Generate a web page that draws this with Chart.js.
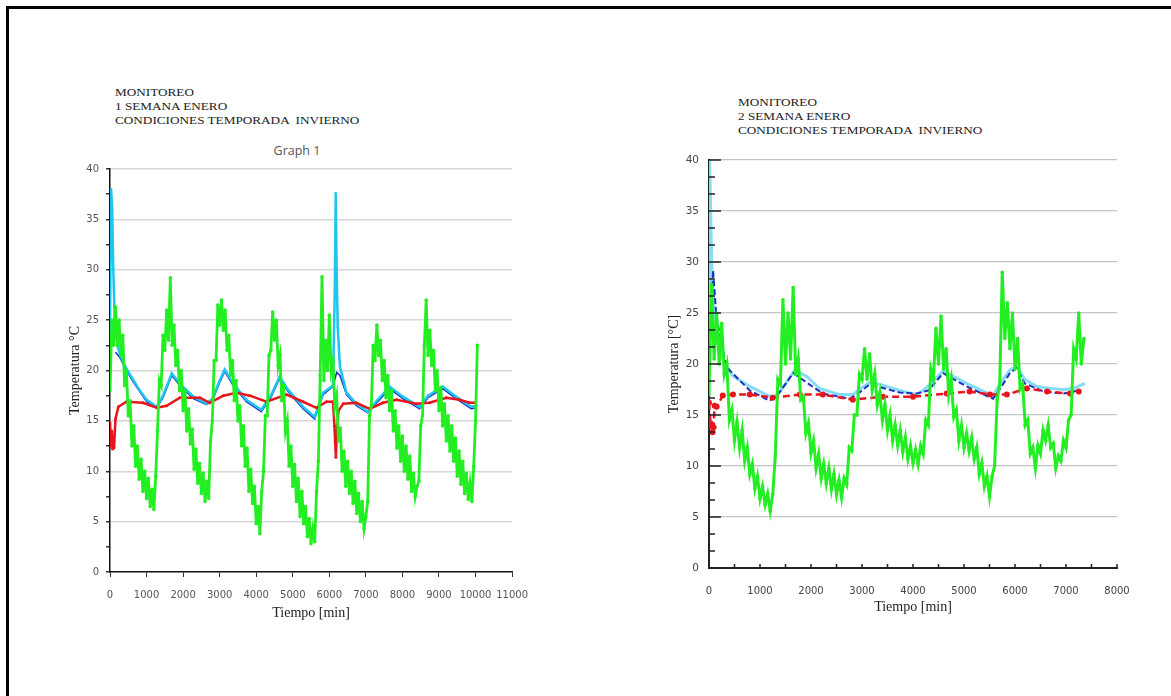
<!DOCTYPE html>
<html>
<head>
<meta charset="utf-8">
<script src="https://cdn.jsdelivr.net/npm/chart.js@4.4.1/dist/chart.umd.min.js"></script>
<style>
  body { margin: 0; background: #fff; width: 1171px; height: 696px; overflow: hidden; position: relative; }
  #frame { position: absolute; left: 6px; top: 6px; width: 1170px; height: 700px; border-top: 3px solid #000; border-left: 3px solid #000; }
  .note { position: absolute; font-family: "Liberation Serif", serif; font-size: 11px; line-height: 14px; color: #222;
    white-space: pre; transform: scaleX(1.2); transform-origin: 0 0; }
  #graph1 { position: absolute; left: 247px; top: 142px; width: 100px; text-align: center; font-family: "Open Sans", sans-serif; font-size: 12.5px; color: #555; }
  canvas { position: absolute; }
</style>
</head>
<body>
<div id="frame"></div>
<div class="note" style="left:115px; top:85px;">MONITOREO
1 SEMANA ENERO
CONDICIONES TEMPORADA  INVIERNO</div>
<div id="graph1">Graph 1</div>
<div class="note" style="left:738px; top:95px;">MONITOREO
2 SEMANA ENERO
CONDICIONES TEMPORADA  INVIERNO</div>
<canvas id="left" width="500" height="490" style="left:40px; top:140px;"></canvas>
<canvas id="right" width="510" height="490" style="left:640px; top:140px;"></canvas>
<script>
// semana 1 (left)
const leftGreenT = [0,50,100,150,200,250,300,350,400,450,500,550,600,650,700,750,800,850,900,950,
  1000,1050,1100,1150,1200,1250,1300,1350,1400,1450,1500,1550,1600,1650,1700,1750,1800,1850,1900,1950,
  2000,2050,2100,2150,2200,2250,2300,2350,2400,2450,2500,2550,2600,2650,2700,2750,2800,2850,2900,2950,
  3000,3050,3100,3150,3200,3250,3300,3350,3400,3450,3500,3550,3600,3650,3700,3750,3800,3850,3900,3950,
  4000,4050,4100,4150,4200,4250,4300,4350,4400,4450,4500,4550,4600,4650,4700,4750,4800,4850,4900,4950,
  5000,5050,5100,5150,5200,5250,5300,5350,5400,5450,5500,5550,5600,5650,5700,5750,5800,5850,5900,5950,
  6000,6050,6100,6150,6200,6250,6300,6350,6400,6450,6500,6550,6600,6650,6700,6750,6800,6850,6900,6950,
  7000,7050,7100,7150,7200,7250,7300,7350,7400,7450,7500,7550,7600,7650,7700,7750,7800,7850,7900,7950,
  8000,8050,8100,8150,8200,8250,8300,8350,8400,8450,8500,8550,8600,8650,8700,8750,8800,8850,8900,8950,
  9000,9050,9100,9150,9200,9250,9300,9350,9400,9450,9500,9550,9600,9650,9700,9750,9800,9850,9900,9950,
  10000,10050];
const leftGreen = [18,25,22.5,26.3,22.5,25,21.5,23.5,18.5,20,15.5,17,12.5,14.5,10.5,12.5,9.2,11.2,8,10,
  7.3,9.3,6.5,8.2,6.2,9.5,14,19,18.5,23.5,22,26,23,29.2,22.5,24.5,20.5,22,18,20,
  16,18,14,16.2,12.7,14.2,10.2,12.2,8.8,10.8,7.8,9.8,7,9,7.3,13,15,21,21,26.5,
  24.5,27,24,26,22,23.5,19.5,21,17,19,15,16.5,12.5,14.5,10.5,12.3,8,10.2,6.8,8.5,
  4.8,6.5,3.8,8,10,15.5,15.5,21.5,22,25.8,23,25,20.5,21.5,17,18.5,14,15,10.5,12.5,
  8.5,10.7,7,9.3,5.5,8,4.8,6.5,3.5,5.3,2.8,4.3,3,8,11,19.5,29.3,19,23,20,
  25.5,20,21,16.5,17.5,13,14.3,10,12,8.5,11,7.8,10,6.8,9,5.8,7.8,5,7,4.3,
  5.5,7,15.5,16.5,22.5,21,24.5,21.5,23,19,21,17.3,19.5,16,18,14,16,12.3,14.5,11,
  13.5,10,12.5,9.2,11.5,8,9.8,7.5,8.5,9,14.5,15.5,22.5,27,21.5,24,20.5,22,18,20,
  16,18.3,14.5,16.7,13,15.5,12,14.5,11,13.3,9.5,12,8.7,11,7.8,9.8,7.2,8.8,7,10.5,
  15,22.5];
const leftCyanT = [0,30,60,90,130,200,270,400,630,800,1000,1280,1450,1690,1910,2280,2640,2800,3000,3140,
  3370,3730,4140,4400,4640,4870,5280,5600,5830,6100,6150,6175,6200,6230,6290,6470,6740,7050,7300,7650,
  8010,8470,8700,9100,9470,9880,10020];
const leftCyan = [24,38,36,30,25,22.5,21.6,20.5,19.1,18.1,17.1,16.4,17.5,19.7,18.7,17.4,16.7,17.2,19,20.1,
  18.7,17.1,16.1,17.5,19.4,18.1,16.4,15.4,17.8,18.5,28,37.6,30,24.3,20.4,17.8,16.7,15.9,17,18.4,
  17.4,16.4,17.5,18.4,17.4,16.4,16.5];
const leftBlueT = [150,270,400,630,1000,1280,1450,1690,1910,2280,2640,2800,3000,3140,3370,3730,4140,4400,4640,4870,
  5280,5600,5830,6100,6200,6290,6470,6740,7050,7300,7650,8010,8470,8700,9100,9470,9880,10020];
const leftBlue = [21.8,21.3,20.3,18.9,16.9,16.3,17.3,19.5,18.5,17.2,16.6,17,18.8,19.9,18.5,16.9,15.9,17.3,19.2,17.9,
  16.2,15.2,17.6,18.4,19.8,19.5,17.6,16.5,15.8,16.8,18.2,17.2,16.2,17.3,18.2,17.2,16.2,16.3];
const leftRedT = [0,30,50,70,90,110,150,230,450,900,1280,1550,1910,2460,2730,3100,3460,3830,4280,4830,
  5280,5650,5920,6100,6140,6160,6180,6200,6250,6380,6740,7100,7470,7840,8380,8740,9200,9560,9840,10000];
const leftRed = [14.8,12.5,14,12.2,13.5,12.3,15.2,16.4,16.9,16.8,16.3,16.5,17.3,17.3,16.8,17.5,17.8,17.5,16.9,17.6,
  16.9,16.3,16.9,16.9,14.5,12.8,11.4,13.5,16,16.7,16.8,16.2,16.8,17.1,16.7,16.8,17.3,17.1,16.8,16.8];
const leftTicksX = [0,1000,2000,3000,4000,5000,6000,7000,8000,9000,10000,11000];

// semana 2 (right)
const rightGreenT = [0,50,100,150,200,250,300,350,400,450,500,550,600,650,700,750,800,850,900,950,
  1000,1050,1100,1150,1200,1250,1300,1350,1400,1450,1500,1550,1600,1650,1700,1750,1800,1850,1900,1950,
  2000,2050,2100,2150,2200,2250,2300,2350,2400,2450,2500,2550,2600,2650,2700,2750,2800,2850,2900,2950,
  3000,3050,3100,3150,3200,3250,3300,3350,3400,3450,3500,3550,3600,3650,3700,3750,3800,3850,3900,3950,
  4000,4050,4100,4150,4200,4250,4300,4350,4400,4450,4500,4550,4600,4650,4700,4750,4800,4850,4900,4950,
  5000,5050,5100,5150,5200,5250,5300,5350,5400,5450,5500,5550,5600,5650,5700,5750,5800,5850,5900,5950,
  6000,6050,6100,6150,6200,6250,6300,6350,6400,6450,6500,6550,6600,6650,6700,6750,6800,6850,6900,6950,
  7000,7050,7100,7150,7200,7250,7300,7350];
const rightGreen = [17,27.8,20.5,25,20,24,19,20,14.5,15.5,12.5,14.3,11.8,13.5,10.5,11.8,9.2,10.2,7.8,9,
  6.8,8,6.2,7.3,5.6,7.2,11,18.5,18,26.3,20,25,20.5,27.5,19,20.5,16.5,16.8,13.2,14.2,
  11.3,12.5,9.8,11.2,8.8,10.2,8.3,9.8,7.7,9.2,7.2,8.6,6.9,8.8,8.2,11.8,11.5,15,15,19,
  18.5,21.5,18.5,21,17.5,19,16,17.2,14.5,16,13.5,15,12.5,14,12,13.5,11.4,12.8,10.7,12,
  10.3,11.6,10.2,12,11.2,14.5,14,19.5,18.5,23.5,20,24.7,19.5,21.5,17,18.5,14.8,15.5,12.5,14,
  11.8,13.2,11.5,12.8,10.7,11.8,9.2,10.3,8,9,7,9,10,16.5,18,29,22.5,26,21.5,25,
  19.5,22.5,17.5,18,14,14.5,11.2,11.8,9.8,12,11.2,13.5,12.5,14,11.8,12.2,9.8,11,10.5,12.5,
  11.8,14.5,15,21.5,20.5,25,20,22.5];
const rightCyanT = [0,10,30,50,80,115,200,275,470,800,1120,1250,1400,1680,1910,2170,2560,2820,2950,3150,
  3350,3740,4070,4200,4330,4590,4790,5050,5310,5570,5700,5900,6030,6190,6430,6690,6950,7150,7370];
const rightCyan = [22,40,36,30.2,27,24.6,22,20.4,18.8,17.8,17,16.7,17.3,19.4,18.8,17.6,17,17,17.5,18.2,
  18,17.4,17,17.4,18,19.3,18.8,18.1,17.5,16.9,18,19.4,19.8,18.5,17.8,17.6,17.5,17.6,18.1];
const rightBlueT = [40,80,145,340,800,1190,1350,1650,2230,2760,2950,3150,3740,4070,4300,4590,5050,5570,5700,5900,
  6030,6190,6560,6950,7150,7250];
const rightBlue = [24,29.2,24.6,19.7,17.4,16.4,17,19.1,17.1,16.6,17.2,18,17.2,17.1,17.4,19.1,17.8,16.6,17.5,19.1,
  19.6,18.1,17.3,17.1,17.3,17.4];
const rightRedT = [0,30,50,70,90,110,150,270,470,800,1250,1780,2230,2820,3410,4000,4660,5110,5510,5840,
  6230,6630,7080,7250];
const rightRed = [16.2,14.2,13.9,13.3,13.8,15.9,15.8,16.9,17,17,16.7,17,17,16.5,16.8,16.8,17.1,17.3,17,17,
  17.6,17.3,17.1,17.3];

const GREEN = '#22ee22';
const CYAN = '#1cc6f0';
const LIGHTCYAN = '#86dcf6';
const DARKBLUE = '#1f2fc4';
const RED = '#e8161c';

function pts(t, v) {
  return t.map((x, i) => ({ x: x, y: v[i] }));
}

// ticks drawn inside the plot, like the second figure
const innerTicks = {
  id: 'innerTicks',
  afterDatasetsDraw(chart) {
    const { ctx, chartArea: a, scales: { x, y } } = chart;
    ctx.save();
    ctx.strokeStyle = '#222';
    ctx.lineWidth = 1.5;
    ctx.beginPath();
    for (let k = 0; k <= 24; k++) {
      const py = y.getPixelForValue(k * 5 / 3);
      ctx.moveTo(a.left, py);
      ctx.lineTo(a.left + (k % 3 === 0 ? 12 : 6), py);
    }
    for (let v = 0; v <= 8000; v += 500) {
      const px = x.getPixelForValue(v);
      ctx.moveTo(px, a.bottom);
      ctx.lineTo(px, a.bottom - 4);
    }
    ctx.stroke();
    ctx.restore();
  }
};

Chart.defaults.font.family = '"DejaVu Sans", sans-serif';
Chart.defaults.font.size = 10;

new Chart(document.getElementById('left'), {
  type: 'line',
  data: {
    datasets: [
      { data: pts(leftGreenT, leftGreen), borderColor: GREEN, backgroundColor: GREEN, borderWidth: 2.8,
        pointRadius: 1.8, pointBorderWidth: 0, order: 0 },
      { data: pts(leftCyanT, leftCyan), borderColor: CYAN, backgroundColor: CYAN, borderWidth: 2.5,
        pointRadius: 1.2, pointBorderWidth: 0, order: 2 },
      { data: pts(leftBlueT, leftBlue), borderColor: DARKBLUE, backgroundColor: DARKBLUE, borderWidth: 1.5,
        pointRadius: 0, order: 3 },
      { data: pts(leftRedT, leftRed), borderColor: RED, backgroundColor: RED, borderWidth: 2.5,
        pointRadius: 1.5, pointBorderWidth: 0, order: 1 }
    ]
  },
  options: {
    responsive: false,
    animation: false,
    devicePixelRatio: 1,
    layout: { padding: { top: 29, right: 27, left: 0, bottom: 0 } },
    plugins: { legend: { display: false }, tooltip: { enabled: false } },
    scales: {
      x: {
        type: 'linear', min: 0, max: 11000,
        afterBuildTicks: s => { s.ticks = leftTicksX.map(v => ({ value: v })); },
        afterFit: s => { s.height = 58; },
        ticks: { autoSkip: false, maxRotation: 0, padding: 12, color: '#555', callback: v => String(v) },
        grid: { drawOnChartArea: false, tickLength: 5, tickColor: '#333' },
        border: { color: '#111', width: 1.5 },
        title: { display: true, text: 'Tiempo [min]', color: '#222', padding: { bottom: 8 },
          font: { family: '"Liberation Serif", serif', size: 14 } }
      },
      y: {
        min: 0, max: 40,
        afterFit: s => { s.width = 70; },
        ticks: { stepSize: 2.5, padding: 7, color: '#555', callback: v => (v % 5 === 0 ? String(v) : '') },
        grid: {
          color: c => (c.tick && c.tick.value % 5 === 0 && c.tick.value > 0 ? '#d6d6d6' : 'rgba(0,0,0,0)'),
          lineWidth: 1.5, tickLength: 4, tickColor: '#333'
        },
        border: { color: '#111', width: 1.5 },
        title: { display: true, text: 'Temperatura °C', color: '#222', padding: { top: 27 },
          font: { family: '"Liberation Serif", serif', size: 14 } }
      }
    }
  }
});

new Chart(document.getElementById('right'), {
  type: 'line',
  data: {
    datasets: [
      { data: pts(rightGreenT, rightGreen), borderColor: GREEN, backgroundColor: GREEN, borderWidth: 3,
        pointRadius: 1.8, pointBorderWidth: 0, order: 0 },
      { data: pts(rightCyanT, rightCyan), borderColor: LIGHTCYAN, backgroundColor: LIGHTCYAN, borderWidth: 3,
        pointRadius: 0, order: 3 },
      { data: pts(rightBlueT, rightBlue), borderColor: DARKBLUE, backgroundColor: DARKBLUE, borderWidth: 2,
        borderDash: [6, 3], pointRadius: 0, order: 2 },
      { data: pts(rightRedT, rightRed), borderColor: RED, backgroundColor: RED, borderWidth: 2.5,
        borderDash: [7, 4], pointRadius: 3, pointBorderWidth: 0, order: 1 }
    ]
  },
  options: {
    responsive: false,
    animation: false,
    devicePixelRatio: 1,
    layout: { padding: { top: 20, right: 33, left: 0, bottom: 0 } },
    plugins: { legend: { display: false }, tooltip: { enabled: false } },
    scales: {
      x: {
        type: 'linear', min: 0, max: 8000,
        ticks: { stepSize: 1000, autoSkip: false, maxRotation: 0, padding: 9, color: '#444', callback: v => String(v) },
        afterFit: s => { s.height = 62; },
        grid: { display: false },
        border: { color: '#222', width: 2 },
        title: { display: true, text: 'Tiempo [min]', color: '#222', padding: { bottom: 14 },
          font: { family: '"Liberation Serif", serif', size: 14 } }
      },
      y: {
        min: 0, max: 40,
        afterFit: s => { s.width = 69; },
        ticks: { stepSize: 5, padding: 10, color: '#444', font: { size: 10.5 } },
        grid: { color: c => (c.tick && c.tick.value > 0 ? '#c4c4c4' : 'rgba(0,0,0,0)'), lineWidth: 1.2, drawTicks: false },
        border: { color: '#222', width: 2 },
        title: { display: true, text: 'Temperatura [°C]', color: '#222', padding: { top: 26 },
          font: { family: '"Liberation Serif", serif', size: 14 } }
      }
    }
  },
  plugins: [innerTicks]
});
</script>
</body>
</html>
